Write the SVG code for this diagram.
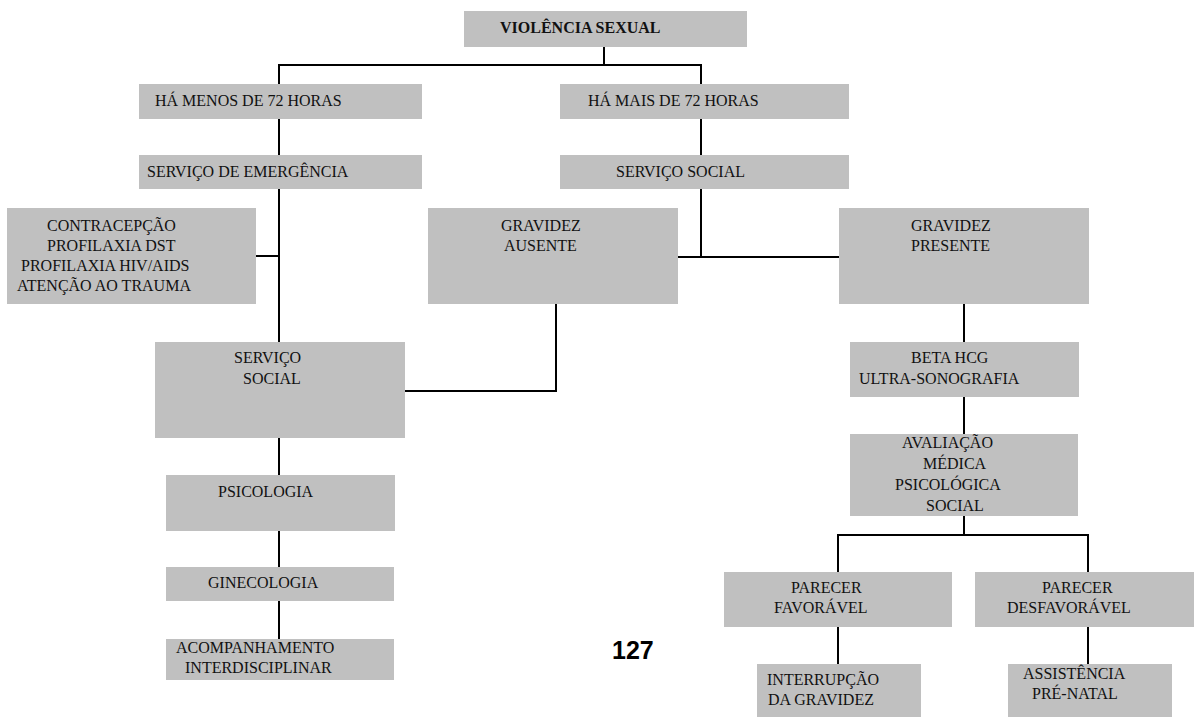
<svg xmlns="http://www.w3.org/2000/svg" width="1194" height="717" viewBox="0 0 1194 717">
<style>
.box{fill:#c0c0c0;stroke:none}
.t{font-family:"Liberation Serif","Times New Roman",serif;font-size:16px;fill:#111}
.tb{font-family:"Liberation Serif","Times New Roman",serif;font-size:16px;font-weight:bold;fill:#111}
.c{stroke:#000;stroke-width:2;fill:none;stroke-linecap:square}
.pg{font-family:"Liberation Sans",Arial,sans-serif;font-size:25px;font-weight:bold;fill:#000}
</style>
<rect width="1194" height="717" fill="#fff"/>
<g id="connectors">
<path class="c" d="M604,47 V65 M279,65 H701 M279,65 V84 M701,65 V84"/>
<path class="c" d="M279,119 V155 M701,119 V155"/>
<path class="c" d="M279,189 V342 M256,256 H279"/>
<path class="c" d="M701,189 V257 M678,257 H839"/>
<path class="c" d="M556,304 V391 H405"/>
<path class="c" d="M279,438 V475 M279,531 V567 M279,601 V639"/>
<path class="c" d="M964,304 V342 M964,397 V434 M964,516 V535"/>
<path class="c" d="M838,572 V535 H1088 V572"/>
<path class="c" d="M838,627 V664 M1088,627 V664"/>
</g>
<g id="n-violencia"><rect class="box" x="464" y="11" width="283" height="36"/><text class="tb" x="500" y="33">VIOLÊNCIA SEXUAL</text></g>
<g id="n-menos72"><rect class="box" x="139" y="84" width="283" height="35"/><text class="t" x="155" y="106">HÁ MENOS DE 72 HORAS</text></g>
<g id="n-mais72"><rect class="box" x="560" y="84" width="289" height="35"/><text class="t" x="588" y="106">HÁ MAIS DE 72 HORAS</text></g>
<g id="n-emergencia"><rect class="box" x="139" y="155" width="283" height="34"/><text class="t" x="147" y="177">SERVIÇO DE EMERGÊNCIA</text></g>
<g id="n-social-r"><rect class="box" x="560" y="155" width="289" height="34"/><text class="t" x="616" y="177">SERVIÇO SOCIAL</text></g>
<g id="n-contracepcao"><rect class="box" x="7" y="208" width="249" height="96"/>
<text class="t" x="47" y="231">CONTRACEPÇÃO</text>
<text class="t" x="47" y="251">PROFILAXIA DST</text>
<text class="t" x="21" y="271">PROFILAXIA HIV/AIDS</text>
<text class="t" x="17" y="291">ATENÇÃO AO TRAUMA</text></g>
<g id="n-ausente"><rect class="box" x="428" y="208" width="250" height="96"/>
<text class="t" x="501" y="231">GRAVIDEZ</text>
<text class="t" x="504" y="251">AUSENTE</text></g>
<g id="n-presente"><rect class="box" x="839" y="208" width="250" height="96"/>
<text class="t" x="911" y="231">GRAVIDEZ</text>
<text class="t" x="911" y="251">PRESENTE</text></g>
<g id="n-social-l"><rect class="box" x="155" y="342" width="250" height="96"/>
<text class="t" x="234" y="363">SERVIÇO</text>
<text class="t" x="243" y="384">SOCIAL</text></g>
<g id="n-beta"><rect class="box" x="850" y="342" width="229" height="55"/>
<text class="t" x="911" y="363">BETA HCG</text>
<text class="t" x="859" y="384">ULTRA-SONOGRAFIA</text></g>
<g id="n-avaliacao"><rect class="box" x="850" y="434" width="228" height="82"/>
<text class="t" x="902" y="448">AVALIAÇÃO</text>
<text class="t" x="923" y="469">MÉDICA</text>
<text class="t" x="895" y="490">PSICOLÓGICA</text>
<text class="t" x="926" y="511">SOCIAL</text></g>
<g id="n-psicologia"><rect class="box" x="166" y="475" width="229" height="56"/><text class="t" x="218" y="497">PSICOLOGIA</text></g>
<g id="n-ginecologia"><rect class="box" x="166" y="567" width="228" height="34"/><text class="t" x="208" y="588">GINECOLOGIA</text></g>
<g id="n-acompanhamento"><rect class="box" x="166" y="639" width="228" height="41"/>
<text class="t" x="176" y="653">ACOMPANHAMENTO</text>
<text class="t" x="185" y="673">INTERDISCIPLINAR</text></g>
<g id="n-favoravel"><rect class="box" x="724" y="572" width="228" height="55"/>
<text class="t" x="791" y="593">PARECER</text>
<text class="t" x="774" y="613">FAVORÁVEL</text></g>
<g id="n-desfavoravel"><rect class="box" x="975" y="572" width="219" height="55"/>
<text class="t" x="1042" y="593">PARECER</text>
<text class="t" x="1007" y="613">DESFAVORÁVEL</text></g>
<g id="n-interrupcao"><rect class="box" x="757" y="664" width="164" height="53"/>
<text class="t" x="767" y="685">INTERRUPÇÃO</text>
<text class="t" x="768" y="705">DA GRAVIDEZ</text></g>
<g id="n-assistencia"><rect class="box" x="1008" y="664" width="164" height="53"/>
<text class="t" x="1023" y="679">ASSISTÊNCIA</text>
<text class="t" x="1032" y="699">PRÉ-NATAL</text></g>
<text class="pg" x="612" y="659">127</text>
</svg>
